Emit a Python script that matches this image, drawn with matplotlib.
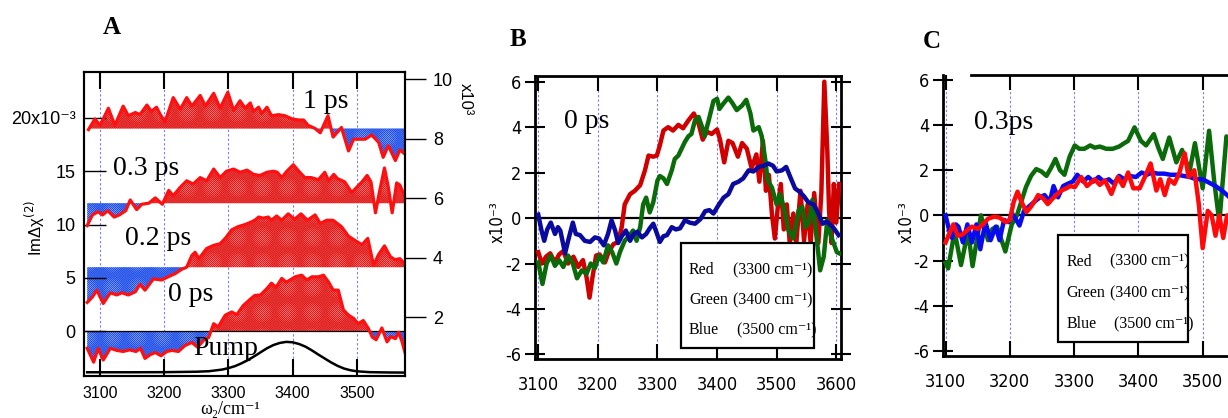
import matplotlib
matplotlib.use('Agg')
import matplotlib.pyplot as plt
from matplotlib import font_manager
from matplotlib.patches import Rectangle
from matplotlib.ticker import FixedLocator, FixedFormatter
import numpy as np

# ---------------- Panel A: Im chi(2) difference spectra (offset traces) ----------------
a_x_1ps = [3082, 3092, 3100, 3113, 3123, 3136, 3144, 3155, 3162, 3173, 3180, 3188, 3193, 3201,
           3214, 3225, 3235, 3243, 3256, 3264, 3277, 3287, 3299, 3308, 3318, 3326, 3334, 3339,
           3347, 3352, 3360, 3367, 3378, 3388, 3399, 3409, 3417, 3424, 3435, 3443, 3455, 3463,
           3476, 3487, 3495, 3502, 3513, 3523, 3534, 3541, 3549, 3560, 3567, 3575]
a_y_1ps = [18.9, 19.9, 19.3, 20.9, 19.3, 21.1, 20.2, 20.5, 20.3, 21.2, 20.6, 21.0, 20.4, 19.6,
           21.9, 20.8, 21.9, 21.1, 22.1, 21.1, 22.3, 20.9, 22.4, 20.7, 21.6, 20.9, 21.4, 20.6,
           21.0, 20.4, 21.0, 20.2, 20.3, 20.2, 19.9, 19.8, 19.8, 19.3, 19.0, 18.6, 20.2, 18.2,
           19.1, 16.9, 18.0, 18.0, 18.0, 18.4, 17.7, 16.3, 17.4, 16.0, 17.0, 16.6]

a_x_03ps = [3080, 3088, 3097, 3104, 3112, 3122, 3130, 3140, 3147, 3157, 3165, 3176, 3186, 3197,
            3207, 3214, 3225, 3235, 3245, 3256, 3266, 3277, 3287, 3297, 3308, 3318, 3329, 3339,
            3349, 3360, 3370, 3376, 3383, 3391, 3401, 3411, 3419, 3429, 3440, 3450, 3456, 3464,
            3470, 3481, 3492, 3500, 3508, 3516, 3522, 3529, 3535, 3543, 3549, 3555, 3562, 3567, 3575]
a_y_03ps = [9.9, 10.9, 11.2, 10.9, 11.3, 10.7, 10.9, 11.3, 12.3, 11.4, 11.9, 12.0, 12.5, 11.9,
            13.2, 12.7, 13.5, 14.1, 13.8, 14.4, 14.1, 15.2, 14.4, 15.0, 15.2, 14.9, 15.1, 14.7,
            14.6, 14.9, 15.0, 14.9, 14.4, 15.0, 15.6, 14.9, 14.4, 14.4, 14.2, 14.9, 14.1, 14.7,
            14.3, 14.0, 13.0, 13.5, 14.0, 14.6, 14.0, 11.1, 13.0, 15.3, 13.5, 11.1, 13.9, 13.7, 12.6]

a_x_02ps = [3080, 3088, 3095, 3105, 3116, 3126, 3134, 3144, 3155, 3162, 3170, 3183, 3196, 3206,
            3217, 3227, 3235, 3243, 3248, 3254, 3266, 3277, 3287, 3295, 3305, 3315, 3326, 3334,
            3341, 3347, 3354, 3362, 3367, 3375, 3383, 3393, 3403, 3413, 3423, 3435, 3443, 3453,
            3463, 3476, 3487, 3500, 3508, 3517, 3526, 3534, 3543, 3552, 3559, 3567, 3575]
a_y_02ps = [2.7, 3.2, 3.85, 2.6, 3.6, 3.4, 3.6, 3.4, 3.7, 4.4, 3.85, 4.9, 4.8, 5.1,
            5.4, 5.8, 6.0, 7.1, 7.4, 6.8, 7.75, 8.05, 8.2, 8.7, 9.5, 9.8, 10.0, 10.2,
            10.4, 10.7, 10.6, 10.7, 10.4, 10.8, 10.4, 11.0, 10.5, 11.0, 10.4, 10.9, 10.1, 10.4,
            10.4, 9.8, 8.9, 8.4, 8.1, 8.7, 6.2, 7.2, 8.0, 7.0, 6.7, 6.8, 6.3]

a_x_0ps = [3080, 3090, 3097, 3105, 3116, 3126, 3136, 3146, 3156, 3163, 3170, 3178, 3186, 3195,
           3204, 3212, 3222, 3232, 3243, 3252, 3262, 3269, 3277, 3284, 3295, 3305, 3313, 3323,
           3334, 3341, 3350, 3360, 3367, 3374, 3383, 3390, 3396, 3404, 3414, 3422, 3430, 3440,
           3448, 3456, 3463, 3471, 3479, 3487, 3495, 3502, 3510, 3518, 3524, 3530, 3539, 3547,
           3553, 3560, 3565, 3570, 3575]
a_y_0ps = [-1.6, -2.9, -1.6, -2.7, -1.6, -1.8, -1.9, -1.75, -1.9, -1.6, -2.55, -2.2, -2.0, -2.3,
           -1.9, -1.8, -1.9, -1.35, -1.05, -1.5, -0.8, -0.6, 0.7, 0.4, 1.5, 1.8, 1.55, 2.4,
           3.0, 3.35, 3.4, 4.0, 4.5, 4.1, 4.95, 4.6, 4.8, 5.1, 5.25, 4.8, 5.1, 5.1,
           5.25, 4.6, 3.85, 3.85, 2.0, 1.5, 1.2, 0.7, 1.0, 0.25, -0.55, -0.8, 0.3, -1.0,
           -0.5, -0.7, -0.1, -0.9, -2.0]

# baseline of each offset trace (x10^-3)
a_base = {'1 ps': 19.0, '0.3 ps': 12.0, '0.2 ps': 6.0, '0 ps': 0.0}

pump_x = [3080, 3150, 3200, 3250, 3270, 3290, 3300, 3310, 3320, 3330, 3340, 3350, 3360, 3370,
          3380, 3390, 3400, 3410, 3420, 3430, 3440, 3450, 3460, 3470, 3480, 3490, 3500, 3520,
          3550, 3575]
pump_y = [-3.85, -3.85, -3.84, -3.80, -3.75, -3.60, -3.46, -3.28, -3.02, -2.72, -2.36, -1.98,
          -1.60, -1.30, -1.10, -1.00, -1.04, -1.20, -1.45, -1.80, -2.19, -2.56, -2.93, -3.25,
          -3.50, -3.66, -3.76, -3.84, -3.87, -3.88]

# ---------------- Panel B: 0 ps, three pump frequencies ----------------
b_x_red = [3100, 3106, 3113, 3120, 3128, 3135, 3142, 3150, 3159, 3167, 3175, 3181, 3186, 3191,
           3197, 3203, 3212, 3218, 3226, 3234, 3240, 3245, 3254, 3262, 3271, 3279, 3285, 3293,
           3299, 3304, 3310, 3318, 3326, 3335, 3343, 3352, 3361, 3369, 3376, 3383, 3391, 3400,
           3405, 3412, 3419, 3426, 3435, 3442, 3450, 3458, 3466, 3471, 3477, 3482, 3487, 3492,
           3497, 3502, 3507, 3512, 3517, 3522, 3528, 3533, 3540, 3546, 3552, 3557, 3563, 3570,
           3575, 3580, 3585, 3588, 3592, 3596, 3600, 3605]
b_y_red = [-1.5, -2.0, -1.7, -1.55, -1.95, -1.6, -1.45, -2.0, -1.7, -2.15, -1.85, -2.6, -3.5, -2.6,
           -1.65, -1.6, -1.95, -1.5, -1.15, -1.05, -0.4, 0.6, 1.05, 1.2, 1.45, 2.1, 2.75, 2.7,
           2.75, 3.2, 3.85, 4.0, 3.85, 4.1, 3.95, 4.3, 4.6, 4.15, 3.45, 3.8, 3.7, 3.9,
           3.45, 2.45, 3.4, 3.3, 2.7, 3.3, 3.05, 2.2, 2.8, 1.6, 3.4, 1.2, 1.9, 0.2,
           -0.9, 0.5, 1.5, -0.5, 0.6, -1.1, 0.2, -1.1, 1.2, -1.0, 0.6, -1.1, 1.1, -1.1,
           1.1, 6.0, 3.0, 0.3, -1.1, 1.5, -0.2, 1.5]

b_x_green = [3100, 3107, 3114, 3121, 3128, 3135, 3142, 3150, 3158, 3165, 3173, 3181, 3188, 3195,
             3202, 3209, 3217, 3224, 3231, 3237, 3245, 3252, 3259, 3265, 3271, 3276, 3281, 3287,
             3293, 3300, 3304, 3310, 3316, 3324, 3329, 3335, 3346, 3352, 3357, 3363, 3369, 3375,
             3379, 3386, 3394, 3400, 3404, 3411, 3419, 3426, 3433, 3442, 3449, 3456, 3461, 3470,
             3475, 3481, 3485, 3492, 3500, 3506, 3513, 3520, 3528, 3537, 3543, 3548, 3554, 3560,
             3567, 3573, 3579, 3585, 3592, 3597, 3601, 3605]
b_y_green = [-1.95, -2.9, -2.0, -1.65, -2.1, -1.85, -2.15, -1.65, -2.0, -2.65, -2.3, -2.45, -2.0, -2.2,
             -1.65, -1.95, -1.2, -1.5, -2.0, -1.5, -1.0, -0.8, -0.55, -1.0, -0.4, 0.6, 0.9, 0.25,
             0.7, 1.65, 1.85, 1.75, 1.5, 2.1, 2.6, 2.75, 3.35, 3.6, 3.7, 4.3, 4.45, 4.0,
             3.6, 4.3, 5.15, 5.25, 4.8, 5.05, 5.3, 5.05, 4.75, 4.95, 5.2, 4.6, 3.85, 4.0,
             3.6, 2.55, 1.65, 1.35, 0.6, 1.05, 0.35, -0.55, -0.9, 0.35, 0.5, -0.4, -0.2, 0.8,
             -0.85, -2.3, -1.7, -0.1, -0.85, -1.2, -1.5, -1.55]

b_x_blue = [3100, 3105, 3110, 3115, 3121, 3128, 3133, 3137, 3145, 3151, 3158, 3163, 3170, 3178,
            3187, 3195, 3202, 3210, 3217, 3223, 3229, 3234, 3240, 3247, 3254, 3260, 3266, 3274,
            3281, 3287, 3293, 3298, 3304, 3310, 3316, 3324, 3331, 3338, 3346, 3354, 3363, 3372,
            3380, 3387, 3394, 3402, 3411, 3419, 3427, 3436, 3444, 3453, 3461, 3470, 3478, 3486,
            3494, 3500, 3509, 3516, 3523, 3531, 3539, 3546, 3553, 3562, 3570, 3577, 3584, 3590,
            3596, 3604]
b_y_blue = [0.15, -0.5, -1.0, -0.5, -0.2, -0.7, -0.4, -0.55, -1.55, -0.9, -0.2, -0.7, -0.75, -1.0,
            -1.05, -0.85, -0.9, -1.2, -0.7, -0.1, -0.55, -1.1, -0.8, -0.55, -1.0, -0.7, -0.6, -0.85,
            -0.7, -0.45, -0.25, -0.6, -1.05, -0.8, -0.75, -0.4, -0.5, -0.45, -0.1, -0.2, -0.25, -0.05,
            0.3, 0.35, 0.2, 0.55, 0.9, 1.05, 1.5, 1.6, 1.75, 2.1, 2.05, 2.25, 2.3, 2.4,
            2.3, 2.05, 2.1, 2.25, 1.8, 1.3, 1.15, 0.95, 0.7, 0.6, 0.2, -0.25, -0.15, -0.3,
            -0.45, -0.75]

# ---------------- Panel C: 0.3 ps, three pump frequencies ----------------
c_x_red = [3100, 3106, 3112, 3119, 3126, 3134, 3141, 3150, 3158, 3166, 3176, 3184, 3194, 3200,
           3206, 3212, 3218, 3226, 3232, 3238, 3244, 3252, 3259, 3265, 3272, 3280, 3288, 3294,
           3301, 3311, 3320, 3332, 3340, 3348, 3358, 3368, 3376, 3384, 3392, 3402, 3410, 3419,
           3428, 3434, 3441, 3448, 3456, 3464, 3472, 3478, 3487, 3494, 3500, 3508, 3514, 3520,
           3526, 3532, 3538, 3545]
c_y_red = [-1.2, -0.8, -0.4, -0.9, -0.85, -0.65, -0.5, -0.6, -0.4, -0.15, -0.05, -0.1, -0.3, -0.2,
           0.6, 1.05, 0.6, 0.15, 0.35, 0.6, 0.9, 0.75, 0.5, 0.7, 0.9, 1.1, 1.2, 1.3,
           1.25, 1.7, 1.3, 1.6, 1.35, 1.55, 0.95, 1.7, 1.3, 1.9, 1.2, 1.2, 1.7, 2.3,
           1.1, 1.6, 0.9, 1.6, 1.4, 1.9, 2.75, 1.7, 2.0, 0.5, -1.45, 0.2, 0.0, -0.9,
           0.0, -1.0, 0.0, -0.5]

c_x_green = [3100, 3104, 3114, 3124, 3135, 3142, 3155, 3166, 3173, 3180, 3193, 3203, 3211, 3225,
             3233, 3241, 3249, 3257, 3264, 3271, 3278, 3285, 3293, 3301, 3308, 3316, 3325, 3332,
             3340, 3350, 3360, 3370, 3378, 3384, 3394, 3404, 3412, 3424, 3431, 3438, 3448, 3459,
             3468, 3474, 3480, 3488, 3500, 3510, 3518, 3526, 3537, 3545]
c_y_green = [-2.1, -2.35, -0.7, -2.2, -0.7, -2.25, 0.0, -1.1, -0.6, -0.5, -1.6, -0.4, 0.0, 1.25,
             1.75, 2.05, 1.95, 1.75, 2.1, 2.5, 2.0, 1.8, 2.6, 3.1, 2.95, 2.95, 3.1, 3.0,
             3.05, 2.95, 2.95, 3.05, 3.2, 3.3, 3.9, 3.3, 3.1, 3.6, 3.0, 2.5, 3.45, 2.35,
             2.9, 2.4, 2.0, 3.2, 1.2, 3.75, 1.5, -0.3, 3.5, 3.2]

c_x_blue = [3100, 3106, 3110, 3116, 3120, 3127, 3134, 3141, 3148, 3154, 3162, 3170, 3178, 3184,
            3191, 3198, 3203, 3210, 3215, 3222, 3230, 3238, 3247, 3254, 3262, 3268, 3275, 3283,
            3290, 3298, 3305, 3314, 3322, 3330, 3338, 3346, 3354, 3362, 3370, 3378, 3386, 3396,
            3405, 3413, 3422, 3430, 3440, 3450, 3460, 3470, 3480, 3490, 3500, 3510, 3520, 3530,
            3540, 3548]
c_y_blue = [0.0, -0.7, -1.0, -0.4, -0.5, -1.2, -0.4, -1.2, -0.4, -1.5, -0.3, -1.1, -0.5, -1.1,
            -0.2, -0.3, 0.1, -0.2, -0.45, 0.2, 0.4, 0.6, 0.8, 0.9, 0.6, 1.3, 0.8, 1.3,
            1.4, 1.5, 1.8, 1.5, 1.7, 1.5, 1.7, 1.5, 1.6, 1.4, 1.75, 1.6, 1.75, 1.7,
            1.9, 1.8, 1.9, 1.85, 1.85, 1.8, 1.8, 1.75, 1.7, 1.6, 1.6, 1.45, 1.3, 1.1,
            0.85, 0.6]

x_ticks_a = [3100, 3200, 3300, 3400, 3500]
x_ticks_bc = [3100, 3200, 3300, 3400, 3500, 3600]
y_ticks_a = [0, 5, 10, 15, 20]
y_labels_a = ['0', '5', '10', '15', '20x10⁻³']
y_ticks_a_right = [2, 4, 6, 8, 10]
y_ticks_bc = [-6, -4, -2, 0, 2, 4, 6]
legend_rows = [('Red', '(3300 cm⁻¹)'), ('Green', '(3400 cm⁻¹)'), ('Blue', '(3500 cm⁻¹)')]

W, H = 1228, 418
SERIF = ['Liberation Serif', 'DejaVu Serif']
SANS = ['Liberation Sans', 'DejaVu Sans']

plt.rcParams['axes.unicode_minus'] = False
plt.rcParams['hatch.linewidth'] = 0.45


def narrow_font():
    """Condensed sans for panels B and C if one is installed: (family, stretch, size)."""
    names = {f.name for f in font_manager.fontManager.ttflist}
    if 'Liberation Sans Narrow' in names:
        return ['Liberation Sans Narrow', 'DejaVu Sans'], 'normal', 14
    for f in font_manager.fontManager.ttflist:
        if f.name == 'DejaVu Sans' and 'Condensed' in f.fname and 'Bold' not in f.fname \
                and 'Oblique' not in f.fname:
            return ['DejaVu Sans'], 'condensed', 13
    return SANS, 'normal', 12.5


def px_box(left, top, right, bottom):
    """Axes rectangle from pixel edges."""
    return [left / W, 1 - bottom / H, (right - left) / W, (bottom - top) / H]


def vgrid(ax, ticks):
    for t in ticks:
        ax.axvline(t, color='#7a7aff', lw=0.8, ls=(0, (2, 2)), zorder=1)


def draw_panel_a(fig):
    ax = fig.add_axes(px_box(84, 72, 405, 376))
    ax.set_xlim(3075, 3575)
    ax.set_ylim(-4.2, 24.3)
    vgrid(ax, x_ticks_a)
    ax.axhline(0, color='k', lw=0.9, zorder=2)

    traces = [(a_x_1ps, a_y_1ps, a_base['1 ps']),
              (a_x_03ps, a_y_03ps, a_base['0.3 ps']),
              (a_x_02ps, a_y_02ps, a_base['0.2 ps']),
              (a_x_0ps, a_y_0ps, a_base['0 ps'])]
    for xs, ys, base in traces:
        xs = np.array(xs, float)
        ys = np.array(ys, float)
        ax.fill_between(xs, base, ys, where=ys >= base, interpolate=True,
                        facecolor='#f5a5a5', edgecolor='#e01818', hatch='xxxxxxxxxxxxxxxx',
                        linewidth=0, zorder=1.5)
        ax.fill_between(xs, base, ys, where=ys <= base, interpolate=True,
                        facecolor='#aec2f5', edgecolor='#1f4fe8', hatch='xxxxxxxxxxxxxxxx',
                        linewidth=0, zorder=1.5)
        ax.plot(xs, ys, color='#ff1010', lw=2.3, zorder=3, solid_joinstyle='round')

    ax.plot(pump_x, pump_y, color='k', lw=1.8, zorder=3)

    for label, x, y in [('1 ps', 3416, 21.5), ('0.3 ps', 3120, 15.3),
                        ('0.2 ps', 3139, 8.7), ('0 ps', 3206, 3.4), ('Pump', 3245, -1.6)]:
        ax.text(x, y, label, family=SERIF, fontsize=20, ha='left', va='center', zorder=4)

    ax.set_xticks(x_ticks_a)
    ax.yaxis.set_major_locator(FixedLocator(y_ticks_a))
    ax.yaxis.set_major_formatter(FixedFormatter(y_labels_a))
    ax.tick_params(axis='x', direction='in', top=True, bottom=True, length=12, width=1.5,
                   labelsize=11.5, pad=7)
    ax.tick_params(axis='y', direction='in', left=True, right=False, length=16, width=1,
                   labelsize=13, pad=6)
    for lab in ax.get_xticklabels() + ax.get_yticklabels():
        lab.set_family(SANS)
    for s in ax.spines.values():
        s.set_linewidth(1.5)

    ax2 = ax.twinx()
    ax2.set_ylim(0.02, 10.24)
    ax2.set_yticks(y_ticks_a_right)
    ax2.tick_params(axis='y', direction='out', length=15, width=1, labelsize=13, pad=5)
    for lab in ax2.get_yticklabels():
        lab.set_family(SANS)
    for s in ax2.spines.values():
        s.set_linewidth(1.5)

    fig.text(112 / W, 1 - 28 / H, 'A', family=SERIF, fontsize=18, weight='bold',
             ha='center', va='center')
    fig.text(35 / W, 1 - 228 / H, 'ImΔχ$^{(2)}$', family=SANS, fontsize=12,
             rotation=90, ha='center', va='center')
    fig.text(230 / W, 1 - 409 / H, 'ω₂/cm⁻¹', family=SERIF, fontsize=13,
             ha='center', va='center')
    fig.text(465 / W, 1 - 99 / H, 'x10³', family=SANS, fontsize=12,
             rotation=-90, ha='center', va='center')


def draw_panel_bc(fig, box, xlim, ylim, series, time_label, label_xy, letter, letter_xy,
                  ylabel_xy, legend_box, legend_cols, legend_ys, narrow, tick_names):
    fam, stretch, fsize = narrow
    ax = fig.add_axes(box)
    ax.set_xlim(*xlim)
    ax.set_ylim(*ylim)
    vgrid(ax, x_ticks_bc)
    ax.axhline(0, color='k', lw=1.6, zorder=2)
    for xs, ys, col in series:
        ax.plot(xs, ys, color=col, lw=3.2, zorder=3, solid_joinstyle='round')

    ax.text(label_xy[0], label_xy[1], time_label, family=SERIF, fontsize=20,
            ha='left', va='center', zorder=4)

    ax.xaxis.set_major_locator(FixedLocator(x_ticks_bc))
    ax.xaxis.set_major_formatter(FixedFormatter(tick_names))
    ax.set_yticks(y_ticks_bc)
    ax.tick_params(axis='x', direction='in', top=True, bottom=True, length=11, width=1.5,
                   labelsize=fsize, pad=12)
    ax.tick_params(axis='y', which='both', direction='inout', left=True, right=True,
                   length=14, width=1.5, labelsize=fsize, pad=3)
    for lab in ax.get_xticklabels() + ax.get_yticklabels():
        lab.set_family(fam)
        lab.set_stretch(stretch)
    for s in ax.spines.values():
        s.set_linewidth(2)

    # legend box drawn by hand (text only, no line samples)
    x0, y0, w, h = legend_box
    ax.add_patch(Rectangle((x0, y0), w, h, transform=ax.transAxes, facecolor='white',
                           edgecolor='k', lw=1.6, zorder=5))
    for (name, freq), y in zip(legend_rows, legend_ys):
        ax.text(legend_cols[0], y, name, transform=ax.transAxes, family=SERIF,
                fontsize=11.5, ha='left', va='center', zorder=6)
        ax.text(legend_cols[1] + (0.012 if name == 'Blue' else 0), y, freq,
                transform=ax.transAxes, family=SERIF, fontsize=11.5, ha='left',
                va='center', zorder=6)

    fig.text(letter_xy[0] / W, 1 - letter_xy[1] / H, letter, family=SERIF, fontsize=18,
             weight='bold', ha='center', va='center')
    fig.text(ylabel_xy[0] / W, 1 - ylabel_xy[1] / H, 'x10⁻³', family=fam, stretch=stretch,
             fontsize=fsize - 1, rotation=90, ha='center', va='center')
    return ax


def main():
    fig = plt.figure(figsize=(W / 100, H / 100), dpi=100)
    narrow = narrow_font()

    draw_panel_a(fig)

    draw_panel_bc(fig, px_box(535, 76, 841, 359), (3094.5, 3608), (-6.2, 6.25),
                  [(b_x_red, b_y_red, '#d00000'),
                   (b_x_green, b_y_green, '#0b6b0b'),
                   (b_x_blue, b_y_blue, '#0a0a9e')],
                  '0 ps', (3143, 4.26), 'B', (518, 40), (498, 222),
                  (0.477, 0.039, 0.435, 0.371), (0.503, 0.647), (0.314, 0.208, 0.102),
                  narrow, [str(t) for t in x_ticks_bc])

    # the right part of panel C is cut off by the figure edge, as in the source
    axc = draw_panel_bc(fig, px_box(943, 75, 1274, 356), (3096, 3611), (-6.23, 6.22),
                        [(c_x_green, c_y_green, '#0b6b0b'),
                         (c_x_blue, c_y_blue, '#0a0af0'),
                         (c_x_red, c_y_red, '#ff0a0a')],
                        '0.3ps', (3145, 4.12), 'C', (932, 41), (907, 222),
                        (0.347, 0.050, 0.393, 0.381), (0.372, 0.505), (0.335, 0.224, 0.114),
                        narrow, [str(t) for t in x_ticks_bc[:-1]] + [''])
    # top frame of panel C starts a little right of the corner in the source
    axc.spines['top'].set_visible(False)
    axc.plot([0.085, 1.0], [1.0, 1.0], transform=axc.transAxes, color='k', lw=2,
             clip_on=False, zorder=6)

    fig.savefig('out.png', dpi=100)


if __name__ == "__main__":
    main()
